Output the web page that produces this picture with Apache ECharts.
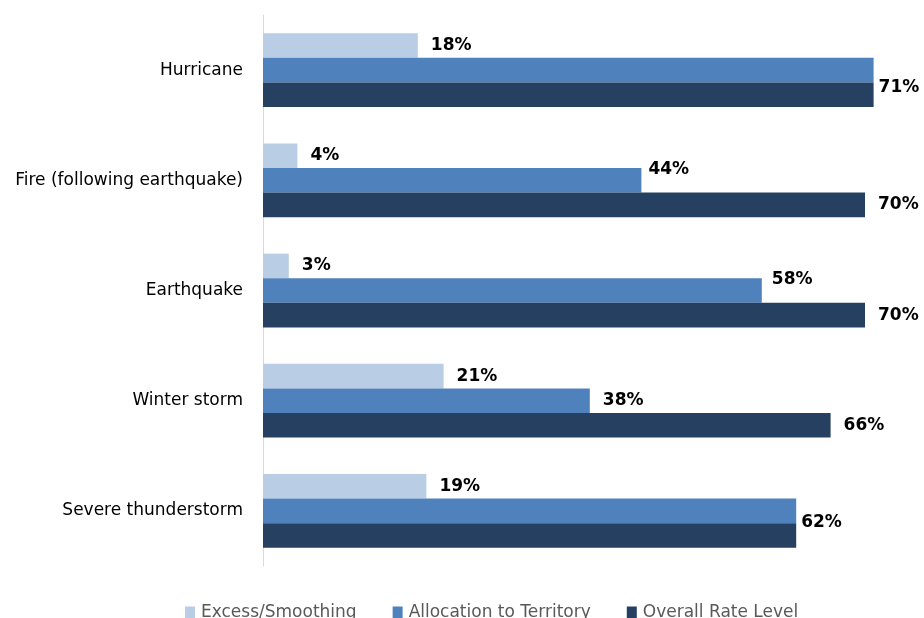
<!DOCTYPE html>
<html>
<head>
<meta charset="utf-8">
<script src="https://cdn.jsdelivr.net/npm/echarts@6/dist/echarts.min.js"></script>
<style>
  html, body { margin: 0; padding: 0; background: #ffffff; }
  #chart { width: 924px; height: 618px; }
</style>
</head>
<body>
<div id="chart"></div>
<script>
// Peril categories, top to bottom
const categories = ['Hurricane', 'Fire (following earthquake)', 'Earthquake', 'Winter storm', 'Severe thunderstorm'];
const seriesNames = ['Excess/Smoothing', 'Allocation to Territory', 'Overall Rate Level'];

// Values in percent
const excessSmoothing = [18, 4, 3, 21, 19];
const allocationToTerritory = [71, 44, 58, 38, 62];
const overallRateLevel = [71, 70, 70, 66, 62];

// Nudges for value labels that would otherwise collide
const allocationLabelShift = [[0, 0], [-6, -11], [-3, -11], [0, 0], [0, 0]];
const overallLabelShift = [[-8, -7], [0, 0], [0, 0], [0, 0], [-8, -13]];

const colors = ['#b9cde5', '#4f81bd', '#254061'];
const font = 'DejaVu Sans';

const labelBase = {
  show: true,
  position: 'right',
  distance: 13,
  color: '#000000',
  fontFamily: font,
  fontWeight: 'bold',
  fontSize: 17,
  formatter: p => p.value + '%'
};

function buildData(values, shifts, hideWhen) {
  return values.map((v, i) => {
    const item = { value: v, label: { offset: shifts ? shifts[i] : [0, 0] } };
    if (hideWhen && hideWhen(i)) item.label.show = false;
    return item;
  });
}

const chart = echarts.init(document.getElementById('chart'), null, { renderer: 'canvas' });

chart.setOption({
  animation: false,
  backgroundColor: '#ffffff',
  color: colors,
  grid: { left: 263, top: 15, width: 645, bottom: 52, containLabel: false },
  legend: {
    data: seriesNames,
    top: 599,
    left: 180,
    itemWidth: 10,
    itemHeight: 12,
    itemGap: 36,
    icon: 'rect',
    textStyle: { fontFamily: font, fontSize: 17, color: '#595959', padding: [0, 0, 0, 1] }
  },
  xAxis: {
    type: 'value',
    min: 0,
    max: 75,
    show: false,
    splitLine: { show: false }
  },
  yAxis: {
    type: 'category',
    data: categories,
    inverse: true,
    axisLine: { show: true, lineStyle: { color: '#d9d9d9', width: 1 } },
    axisTick: { show: false },
    axisLabel: { margin: 20, fontFamily: font, fontSize: 17, color: '#000000' }
  },
  series: [
    {
      name: seriesNames[0],
      type: 'bar',
      barWidth: 24.6,
      barGap: '0%',
      label: labelBase,
      data: buildData(excessSmoothing)
    },
    {
      name: seriesNames[1],
      type: 'bar',
      barWidth: 24.6,
      barGap: '0%',
      label: labelBase,
      data: buildData(allocationToTerritory, allocationLabelShift, i => allocationToTerritory[i] === overallRateLevel[i])
    },
    {
      name: seriesNames[2],
      type: 'bar',
      barWidth: 24.6,
      barGap: '0%',
      label: labelBase,
      data: buildData(overallRateLevel, overallLabelShift)
    }
  ]
});
</script>
</body>
</html>
